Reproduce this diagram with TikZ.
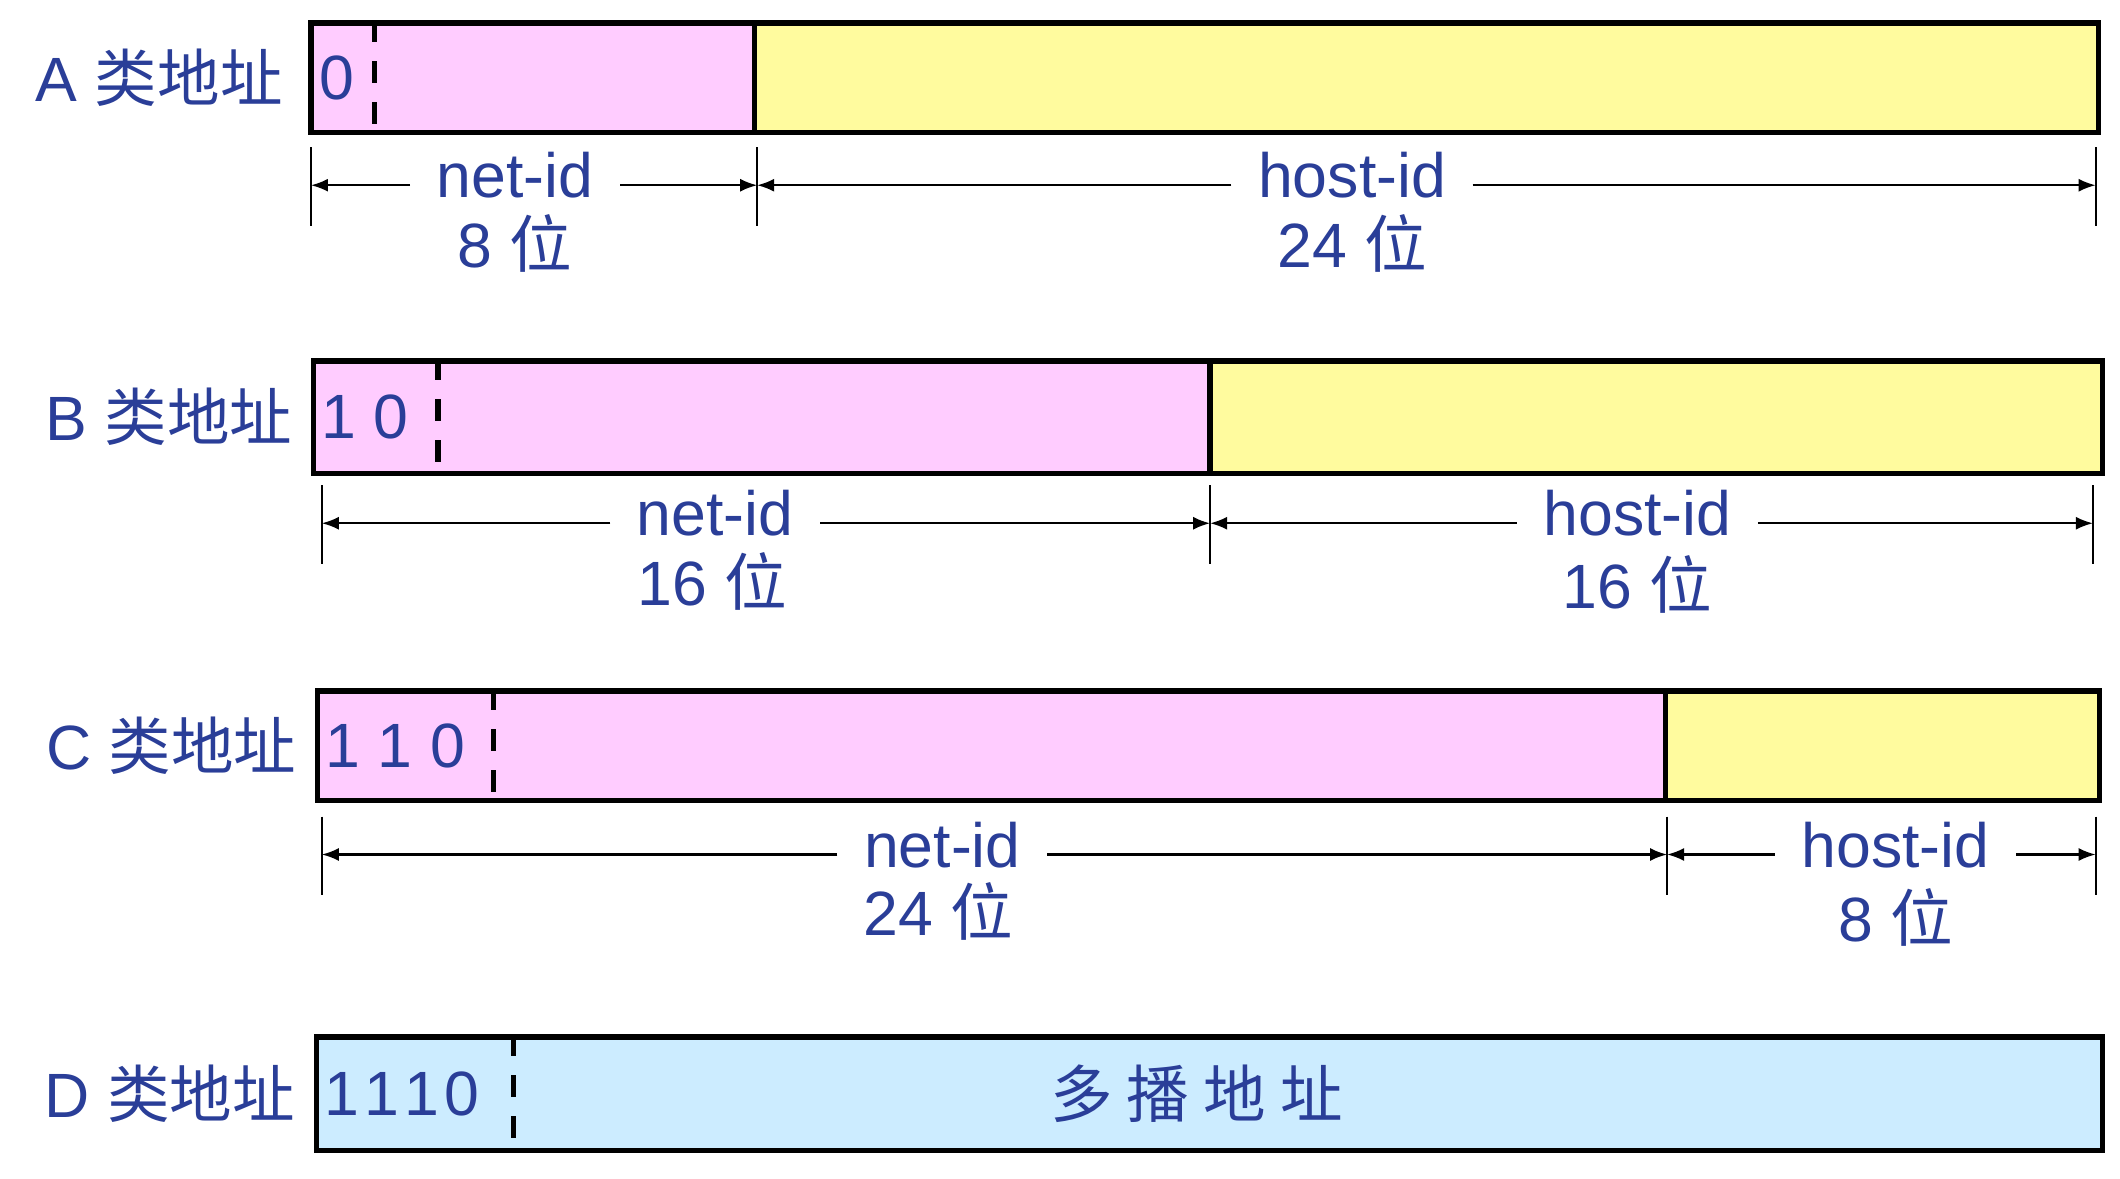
\documentclass[tikz,border=0pt]{standalone}
\usepackage{fontspec}
\setmainfont{Liberation Sans}
\newfontfamily\cjk{Noto Sans CJK SC}
\usetikzlibrary{arrows.meta, positioning, fit}

\definecolor{fieldNet}{RGB}{255,204,255}
\definecolor{fieldHost}{RGB}{255,251,158}
\definecolor{fieldMulti}{RGB}{204,236,255}
\definecolor{textBlue}{RGB}{42,62,152}

\tikzset{
  fieldBox/.style={draw=black, line width=1.5pt, inner sep=0pt},
  netField/.style={fieldBox, fill=fieldNet},
  hostField/.style={fieldBox, fill=fieldHost},
  multiField/.style={fieldBox, fill=fieldMulti},
  blueText/.style={text=textBlue, font=\fontsize{17.8}{20}\selectfont},
  classLabel/.style={blueText, inner sep=0pt},
  bitsText/.style={blueText, inner xsep=0.1cm, inner ysep=0pt, anchor=west},
  dimText/.style={blueText, inner xsep=0.26cm, inner ysep=0pt, text height=12.5pt, text depth=5.3pt},
  unitText/.style={blueText, inner sep=0pt, anchor=base},
  dimFlow/.style={-{Latex[length=1.7mm,width=1.3mm]}, line width=0.6pt},
  tickLine/.style={line width=0.6pt},
  bitSep/.style={line width=1.5pt, dash pattern=on 0.22cm off 0.19cm}
}

\begin{document}
\begin{tikzpicture}[x=0.01352cm, y=-0.01352cm]
  \useasboundingbox (0,0) rectangle (1568,872);

  % class A
  \node[netField, fit={(230,17) (558,98)}] (aNet) {};
  \node[hostField, fit={(558,17) (1552,98)}] (aHost) {};
  \node[classLabel, left=0.25cm of aNet] (aClass) {A {\cjk 类地址}};
  \node[bitsText] (aBits) at (aNet.west) {0};
  \coordinate (aSep) at (277,17);
  \draw[bitSep] (aSep |- aNet.north) -- (aSep |- aNet.south);

  \coordinate (aTickL) at (230,137);
  \coordinate (aTickM) at (560,137);
  \coordinate (aTickR) at (1550,137);
  \draw[tickLine] (aTickL) ++(0,-28) -- ++(0,58) (aTickM) ++(0,-28) -- ++(0,58) (aTickR) ++(0,-28) -- ++(0,58);
  \node[dimText] (aNetDim) at (381,137) {net-id};
  \node[unitText] (aNetLen) at (381,198) {8 {\cjk 位}};
  \node[dimText] (aHostDim) at (1000,137) {host-id};
  \node[unitText] (aHostLen) at (1000,198) {24 {\cjk 位}};
  \draw[dimFlow] (aNetDim) -- (aTickL);
  \draw[dimFlow] (aNetDim) -- (aTickM);
  \draw[dimFlow] (aHostDim) -- (aTickM);
  \draw[dimFlow] (aHostDim) -- (aTickR);

  % class B
  \node[netField, fit={(232,267) (895,350)}] (bNet) {};
  \node[hostField, fit={(895,267) (1555,350)}] (bHost) {};
  \node[classLabel, left=0.18cm of bNet] (bClass) {B {\cjk 类地址}};
  \node[bitsText] (bBits) at (bNet.west) {1 0};
  \coordinate (bSep) at (324,267);
  \draw[bitSep] (bSep |- bNet.north) -- (bSep |- bNet.south);

  \coordinate (bTickL) at (238,387);
  \coordinate (bTickM) at (895,387);
  \coordinate (bTickR) at (1548,387);
  \draw[tickLine] (bTickL) ++(0,-28) -- ++(0,58) (bTickM) ++(0,-28) -- ++(0,58) (bTickR) ++(0,-28) -- ++(0,58);
  \node[dimText] (bNetDim) at (529,387) {net-id};
  \node[unitText] (bNetLen) at (527,448) {16 {\cjk 位}};
  \node[dimText] (bHostDim) at (1211,387) {host-id};
  \node[unitText] (bHostLen) at (1211,450) {16 {\cjk 位}};
  \draw[dimFlow] (bNetDim) -- (bTickL);
  \draw[dimFlow] (bNetDim) -- (bTickM);
  \draw[dimFlow] (bHostDim) -- (bTickM);
  \draw[dimFlow] (bHostDim) -- (bTickR);

  % class C
  \node[netField, fit={(235,511) (1232,592)}] (cNet) {};
  \node[hostField, fit={(1232,511) (1553,592)}] (cHost) {};
  \node[classLabel, left=0.18cm of cNet] (cClass) {C {\cjk 类地址}};
  \node[bitsText] (cBits) at (cNet.west) {1 1 0};
  \coordinate (cSep) at (365,511);
  \draw[bitSep] (cSep |- cNet.north) -- (cSep |- cNet.south);

  \coordinate (cTickL) at (238,632);
  \coordinate (cTickM) at (1233,632);
  \coordinate (cTickR) at (1550,632);
  \draw[tickLine] (cTickL) ++(0,-28) -- ++(0,58) (cTickM) ++(0,-28) -- ++(0,58) (cTickR) ++(0,-28) -- ++(0,58);
  \node[dimText] (cNetDim) at (697,632) {net-id};
  \node[unitText] (cNetLen) at (694,692) {24 {\cjk 位}};
  \node[dimText] (cHostDim) at (1402,632) {host-id};
  \node[unitText] (cHostLen) at (1402,696) {8 {\cjk 位}};
  \draw[dimFlow] (cNetDim) -- (cTickL);
  \draw[dimFlow] (cNetDim) -- (cTickM);
  \draw[dimFlow] (cHostDim) -- (cTickM);
  \draw[dimFlow] (cHostDim) -- (cTickR);

  % class D
  \node[multiField, fit={(234,767) (1555,851)}] (dAll) {};
  \node[classLabel, left=0.18cm of dAll] (dClass) {D {\cjk 类地址}};
  \node[bitsText] (dBits) at (dAll.west) {1\kern1.5pt1\kern1.5pt1\kern1.5pt0};
  \coordinate (dSep) at (380,767);
  \draw[bitSep] (dSep |- dAll.north) -- (dSep |- dAll.south);
  \node[blueText] (dMulti) at (885,809) {{\cjk 多 播 地 址}};
\end{tikzpicture}
\end{document}
